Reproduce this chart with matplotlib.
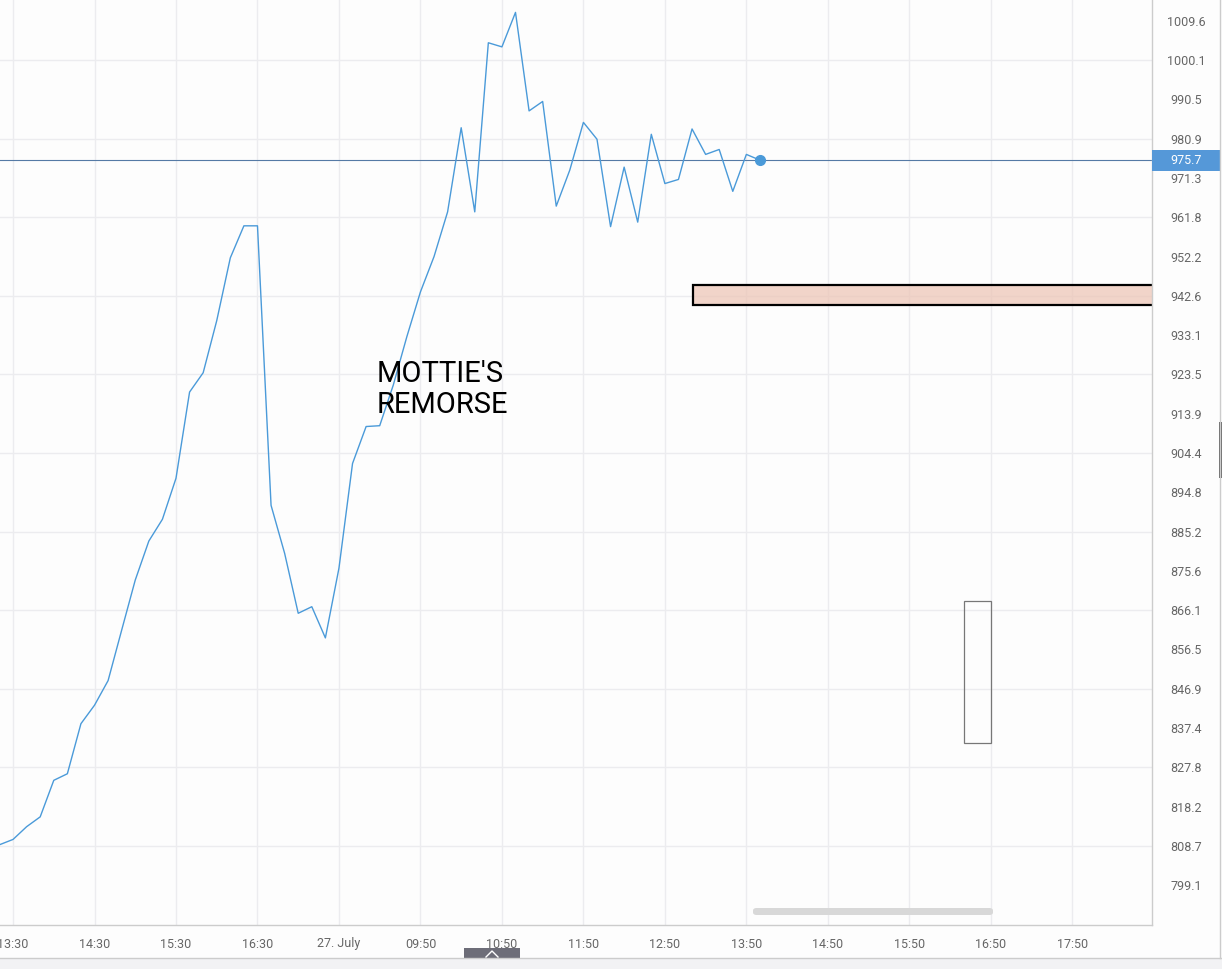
import matplotlib.pyplot as plt
import matplotlib.transforms as mtransforms
from matplotlib.patches import Rectangle, FancyBboxPatch

plt.rcParams['font.family'] = ['Roboto', 'DejaVu Sans']

# 10-minute closes
prices = [808.9, 810.2, 813.3, 815.7, 824.6, 826.2, 838.4, 842.9, 848.9, 861.2,
          873.4, 882.9, 888.2, 898.2, 919.2, 923.9, 936.6, 951.9, 959.7, 959.7,
          891.6, 879.9, 865.3, 866.9, 859.3, 876.3, 901.8, 910.8, 911.0, 920.9,
          932.7, 943.6, 952.2, 963.1, 983.6, 963.1, 1004.3, 1003.3, 1011.7, 987.7,
          990.0, 964.5, 973.3, 984.9, 980.8, 959.5, 974.0, 960.6, 982.0, 970.0,
          971.0, 983.3, 977.1, 978.3, 968.1, 977.1, 975.7]
last_price = 975.7

x_ticks = [1, 7, 13, 19, 25, 31, 37, 43, 49, 55, 61, 67, 73, 79]
x_labels = ['13:30', '14:30', '15:30', '16:30', '27. July', '09:50', '10:50',
            '11:50', '12:50', '13:50', '14:50', '15:50', '16:50', '17:50']
y_ticks = [799.1, 808.7, 818.2, 827.8, 837.4, 846.9, 856.5, 866.1, 875.6, 885.2,
           894.8, 904.4, 913.9, 923.5, 933.1, 942.6, 952.2, 961.8, 971.3, 980.9,
           990.5, 1000.1, 1009.6]

zone = [51.07, 940.4, 945.3]          # start, low, high (runs off to the right)
box = [71.0, 73.0, 833.7, 868.3]      # x0, x1, low, high
note = "MOTTIE'S\nREMORSE"
note_pos = [27.8, 914.0]              # baseline of the last line

W, H = 1222, 969
fig = plt.figure(figsize=(W / 100, H / 100), dpi=100, facecolor='#fdfdfd')
ax = fig.add_axes([0, 44 / H, 1152 / W, 925 / H], facecolor='#fdfdfd')

line_col = '#4a9ad9'
grid_col = '#ececef'

ax.set_xlim(0.04, 84.87)
ax.set_ylim(789.35, 1014.72)

for v in y_ticks[1::2]:
    ax.axhline(v, color=grid_col, lw=1, zorder=0)
for x in x_ticks:
    ax.axvline(x, color=grid_col, lw=1, zorder=0)

xs = list(range(len(prices)))
ax.plot(xs, prices, color=line_col, lw=1.0, zorder=3)
ax.plot(xs[-1], prices[-1], 'o', color=line_col, ms=7, zorder=4)
ax.axhline(last_price, color='#557aa5', lw=0.8, zorder=2)

ax.add_patch(Rectangle((zone[0], zone[1]), 40, zone[2] - zone[1],
                       facecolor=(236/255, 195/255, 180/255, 0.7),
                       edgecolor='black', lw=1.6, zorder=2))
ax.add_patch(Rectangle((box[0], box[2]), box[1] - box[0], box[3] - box[2],
                       facecolor='none', edgecolor='#777777', lw=0.9, zorder=2))

ax.text(note_pos[0], note_pos[1], note, fontsize=21, color='black',
        va='baseline', ha='left', linespacing=1.14, zorder=5)

ax.set_xticks(x_ticks)
ax.set_xticklabels(x_labels)
ax.set_yticks(y_ticks)
ax.set_yticklabels([f'{v:.1f}' for v in y_ticks])
ax.yaxis.tick_right()
ax.tick_params(axis='y', length=0, pad=24.5, labelsize=9, labelcolor='#666666')
ax.tick_params(axis='x', length=0, pad=9, labelsize=9, labelcolor='#666666')
for lab in ax.get_yticklabels():
    lab.set_ha('center')

for s in ['top', 'left']:
    ax.spines[s].set_visible(False)
for s in ['right', 'bottom']:
    ax.spines[s].set_color('#cccccc')
    ax.spines[s].set_linewidth(1)

# last price label on the axis
trans = mtransforms.blended_transform_factory(ax.transAxes, ax.transData)
ax.add_patch(Rectangle((1.0, last_price - 2.56), 68 / 1152, 5.12, transform=trans,
                       facecolor='#5598d8', edgecolor='none', clip_on=False, zorder=5))
ax.text(1.0 + 34 / 1152, last_price, f'{last_price:.1f}', transform=trans,
        ha='center', va='center', color='white', fontsize=9, zorder=6)

# navigator scrollbar inside the plot
ax.add_patch(FancyBboxPatch((753 / 1152, 10 / 925), 240 / 1152, 7 / 925,
                            boxstyle='round,pad=0,rounding_size=0.003',
                            transform=ax.transAxes, facecolor='#d8d8d8',
                            edgecolor='none', zorder=1))


def px(x, y):
    return x / W, 1 - y / H


# frame pieces of the widget
fig.add_artist(Rectangle(px(0, 969), 1, 11 / H, transform=fig.transFigure,
                         facecolor='#f2f2f4', edgecolor='none'))
fig.add_artist(plt.Line2D([0, 1], [1 - 958 / H] * 2, transform=fig.transFigure,
                          color='#cccccc', lw=1))
fig.add_artist(plt.Line2D([1220 / W] * 2, [1 - 958 / H, 1], transform=fig.transFigure,
                          color='#cccccc', lw=1))
fig.add_artist(Rectangle(px(1219, 478), 3 / W, 56 / H, transform=fig.transFigure,
                         facecolor='#666666', edgecolor='none'))
fig.add_artist(Rectangle(px(464, 958), 56 / W, 10 / H, transform=fig.transFigure,
                         facecolor='#6d6d78', edgecolor='none'))
fig.add_artist(plt.Line2D([486 / W, 492 / W, 498 / W], [1 - 957 / H, 1 - 951 / H, 1 - 957 / H],
                          transform=fig.transFigure, color='white', lw=1))

fig.savefig('out.png', dpi=100, facecolor=fig.get_facecolor())
